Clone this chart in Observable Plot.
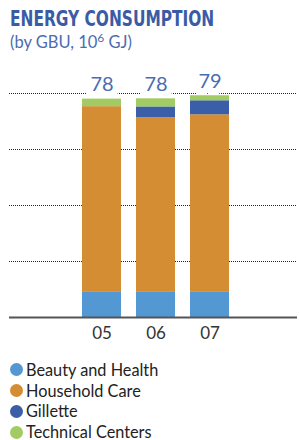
<!DOCTYPE html>
<html>
<head>
<meta charset="utf-8">
<script src="https://cdn.jsdelivr.net/npm/d3@7"></script>
<script src="https://cdn.jsdelivr.net/npm/@observablehq/plot@0.6"></script>
<style>
  html, body { margin: 0; padding: 0; background: #fff; }
  body { width: 299px; height: 440px; overflow: hidden; font-family: Lato, sans-serif; position: relative; }
  #title { position: absolute; left: 10px; top: 9px; font-family: "DejaVu Sans Condensed", "DejaVu Sans", sans-serif; font-stretch: condensed; font-weight: bold; font-size: 21px; line-height: 21px; color: #3b5ba5; white-space: nowrap; transform: scaleX(0.815); transform-origin: 0 0; }
  #subtitle { position: absolute; left: 10px; top: 33px; font-size: 16.5px; line-height: 18px; color: #4b6cb0; font-family: Lato, sans-serif; white-space: nowrap; }
  #subtitle sup { font-size: 12px; vertical-align: 6px; line-height: 0; }
  #chart { position: absolute; left: 0; top: 56px; }
  #legend { position: absolute; left: 10px; top: 359.5px; }
  .item { display: flex; align-items: center; height: 20.8px; font-size: 16.3px; color: #222; }
  .item span.label { line-height: 16px; }
  .dot { width: 13px; height: 13px; border-radius: 50%; margin-right: 3px; flex: none; }
</style>
</head>
<body>
<div id="title">ENERGY CONSUMPTION</div>
<div id="subtitle">(by GBU, 10<sup>6</sup> GJ)</div>
<div id="chart"></div>
<div id="legend"></div>
<script>
const years = ["05", "06", "07"];
const seriesNames = ["Beauty and Health", "Household Care", "Gillette", "Technical Centers"];
const beautyHealth = [9.2, 9.2, 9.2];
const householdCare = [66.1, 62.1, 63.2];
const gillette = [0, 3.9, 5.0];
const technicalCenters = [2.7, 2.9, 1.8];
const totals = [78, 78, 79];
const gridTicks = [20, 40, 60, 80];
const palette = ["#5397d3", "#d48d33", "#3a5ea8", "#a3cb64"];

const seriesValues = [beautyHealth, householdCare, gillette, technicalCenters];
const data = [];
seriesNames.forEach((s, si) => {
  years.forEach((y, yi) => data.push({year: y, series: s, value: seriesValues[si][yi]}));
});
const totalData = years.map((y, i) => ({year: y, total: totals[i]}));

const chart = Plot.plot({
  width: 299,
  height: 300,
  marginLeft: 66,
  marginRight: 55,
  marginTop: 37,
  marginBottom: 39,
  x: {domain: years, padding: 0.28, label: null},
  y: {domain: [0, 80], axis: null},
  color: {domain: seriesNames, range: palette},
  style: {fontFamily: "Lato, sans-serif", background: "white"},
  marks: [
    Plot.ruleY(gridTicks, {stroke: "#222", strokeWidth: 1, strokeDasharray: "1,1", insetLeft: -57, insetRight: -53}),
    Plot.text(totalData, {x: "year", y: "total", text: d => String(d.total), dy: -15, fontSize: 20, fill: "#4a6db2", stroke: "white", strokeWidth: 14, lineAnchor: "middle"}),
    Plot.barY(data, Plot.stackY({x: "year", y: "value", fill: "series"})),
    Plot.ruleY([0], {stroke: "#555", strokeWidth: 2, insetLeft: -57, insetRight: -53}),
    Plot.axisX({tickSize: 0, tickPadding: 9, fontSize: 17, color: "#333", label: null})
  ]
});
document.getElementById("chart").appendChild(chart);

const legend = document.getElementById("legend");
seriesNames.forEach((s, i) => {
  const item = document.createElement("div");
  item.className = "item";
  const dot = document.createElement("span");
  dot.className = "dot";
  dot.style.background = palette[i];
  const label = document.createElement("span");
  label.className = "label";
  label.textContent = s;
  item.appendChild(dot);
  item.appendChild(label);
  legend.appendChild(item);
});
</script>
</body>
</html>
